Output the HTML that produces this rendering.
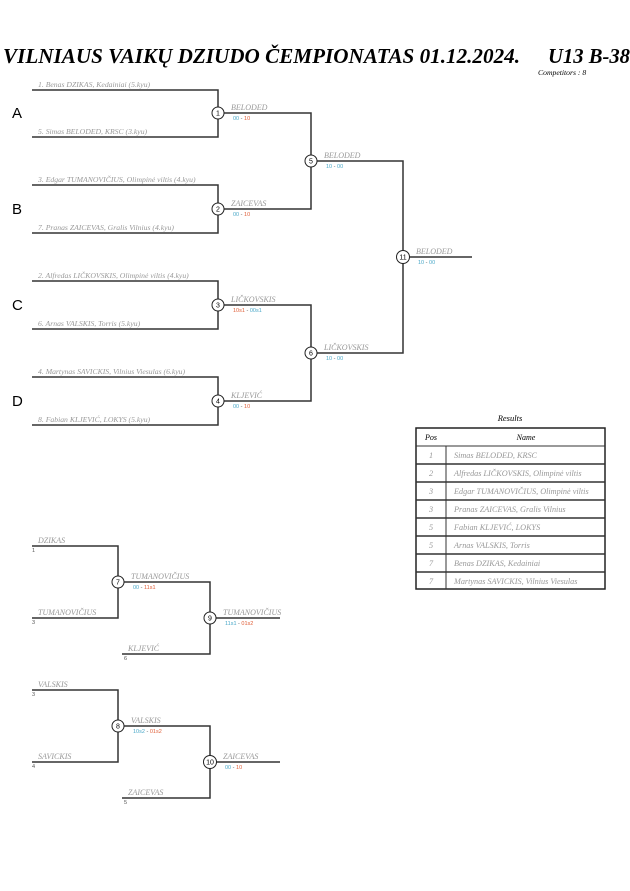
<!DOCTYPE html>
<html><head><meta charset="utf-8"><style>
html,body{margin:0;padding:0;background:#fff}
svg{display:block}
.t{font-family:"Liberation Serif",serif;font-style:italic;font-weight:bold}
.n{font-family:"Liberation Serif",serif;font-style:italic;fill:#999;font-size:7.7px}
.w{font-family:"Liberation Serif",serif;font-style:italic;fill:#999;font-size:8px}
.s{font-family:"Liberation Sans",sans-serif;font-size:5.5px}
.b{fill:#4aa8c8}.r{fill:#e0603a}.d{fill:#555}
.c{font-family:"Liberation Sans",sans-serif;font-size:7px;fill:#000}
.L{font-family:"Liberation Sans",sans-serif;font-size:15px;fill:#000}
path,line{stroke:#333;stroke-width:1.5;fill:none}
circle{fill:#fff;stroke:#222;stroke-width:1}
</style></head><body>
<svg width="630" height="891" viewBox="0 0 630 891">
<text class="t" x="3" y="63" font-size="21" textLength="517" lengthAdjust="spacingAndGlyphs">VILNIAUS VAIKŲ DZIUDO ČEMPIONATAS  01.12.2024.</text>
<text class="t" x="548" y="63" font-size="21" textLength="82" lengthAdjust="spacingAndGlyphs">U13 B-38</text>
<text class="n" x="538" y="75" style="fill:#000">Competitors : 8</text>

<text class="L" x="12" y="118">A</text>
<text class="L" x="12" y="214">B</text>
<text class="L" x="12" y="310">C</text>
<text class="L" x="12" y="406">D</text>

<path d="M32 90H218V137H32"/><path d="M32 185H218V233H32"/>
<path d="M32 281H218V329H32"/><path d="M32 377H218V425H32"/>
<path d="M218 113H311V209H218"/><path d="M218 305H311V401H218"/>
<path d="M311 161H403V353H311"/><line x1="403" y1="257" x2="472" y2="257"/>

<text class="n" x="38" y="87">1. Benas DZIKAS, Kedainiai (5.kyu)</text>
<text class="n" x="38" y="134">5. Simas BELODED, KRSC (3.kyu)</text>
<text class="n" x="38" y="182">3. Edgar TUMANOVIČIUS, Olimpinė viltis (4.kyu)</text>
<text class="n" x="38" y="230">7. Pranas ZAICEVAS, Gralis Vilnius (4.kyu)</text>
<text class="n" x="38" y="278">2. Alfredas LIČKOVSKIS, Olimpinė viltis (4.kyu)</text>
<text class="n" x="38" y="326">6. Arnas VALSKIS, Torris (5.kyu)</text>
<text class="n" x="38" y="374">4. Martynas SAVICKIS, Vilnius Viesulas (6.kyu)</text>
<text class="n" x="38" y="422">8. Fabian KLJEVIĆ, LOKYS (5.kyu)</text>

<text class="w" x="231" y="110">BELODED</text><text class="s" x="233" y="120"><tspan class="b">00</tspan><tspan class="d"> - </tspan><tspan class="r">10</tspan></text>
<text class="w" x="231" y="206">ZAICEVAS</text><text class="s" x="233" y="216"><tspan class="b">00</tspan><tspan class="d"> - </tspan><tspan class="r">10</tspan></text>
<text class="w" x="231" y="302">LIČKOVSKIS</text><text class="s" x="233" y="312"><tspan class="r">10s1</tspan><tspan class="d"> - </tspan><tspan class="b">00s1</tspan></text>
<text class="w" x="231" y="398">KLJEVIĆ</text><text class="s" x="233" y="408"><tspan class="b">00</tspan><tspan class="d"> - </tspan><tspan class="r">10</tspan></text>
<text class="w" x="324" y="158">BELODED</text><text class="s" x="326" y="168"><tspan class="b">10</tspan><tspan class="d"> - </tspan><tspan class="b">00</tspan></text>
<text class="w" x="324" y="350">LIČKOVSKIS</text><text class="s" x="326" y="360"><tspan class="b">10</tspan><tspan class="d"> - </tspan><tspan class="b">00</tspan></text>
<text class="w" x="416" y="254">BELODED</text><text class="s" x="418" y="264"><tspan class="b">10</tspan><tspan class="d"> - </tspan><tspan class="b">00</tspan></text>

<circle cx="218" cy="113" r="6"/><text class="c" x="218" y="115.5" text-anchor="middle">1</text>
<circle cx="218" cy="209" r="6"/><text class="c" x="218" y="211.5" text-anchor="middle">2</text>
<circle cx="218" cy="305" r="6"/><text class="c" x="218" y="307.5" text-anchor="middle">3</text>
<circle cx="218" cy="401" r="6"/><text class="c" x="218" y="403.5" text-anchor="middle">4</text>
<circle cx="311" cy="161" r="6"/><text class="c" x="311" y="163.5" text-anchor="middle">5</text>
<circle cx="311" cy="353" r="6"/><text class="c" x="311" y="355.5" text-anchor="middle">6</text>
<circle cx="403" cy="257" r="6.5"/><text class="c" x="403" y="259.5" text-anchor="middle">11</text>

<path d="M32 546H118V618H32"/><path d="M118 582H210V654H122"/><line x1="210" y1="618" x2="280" y2="618"/>
<path d="M32 690H118V762H32"/><path d="M118 726H210V798H122"/><line x1="210" y1="762" x2="280" y2="762"/>
<text class="w" x="38" y="543">DZIKAS</text><text class="s d" x="32" y="552">1</text>
<text class="w" x="38" y="615">TUMANOVIČIUS</text><text class="s d" x="32" y="624">3</text>
<text class="w" x="128" y="651">KLJEVIĆ</text><text class="s d" x="124" y="660">6</text>
<text class="w" x="38" y="687">VALSKIS</text><text class="s d" x="32" y="696">3</text>
<text class="w" x="38" y="759">SAVICKIS</text><text class="s d" x="32" y="768">4</text>
<text class="w" x="128" y="795">ZAICEVAS</text><text class="s d" x="124" y="804">5</text>
<text class="w" x="131" y="579">TUMANOVIČIUS</text><text class="s" x="133" y="589"><tspan class="b">00</tspan><tspan class="d"> - </tspan><tspan class="r">11s1</tspan></text>
<text class="w" x="223" y="615">TUMANOVIČIUS</text><text class="s" x="225" y="625"><tspan class="b">11s1</tspan><tspan class="d"> - </tspan><tspan class="r">01s2</tspan></text>
<text class="w" x="131" y="723">VALSKIS</text><text class="s" x="133" y="733"><tspan class="b">10s2</tspan><tspan class="d"> - </tspan><tspan class="r">01s2</tspan></text>
<text class="w" x="223" y="759">ZAICEVAS</text><text class="s" x="225" y="769"><tspan class="b">00</tspan><tspan class="d"> - </tspan><tspan class="r">10</tspan></text>
<circle cx="118" cy="582" r="6"/><text class="c" x="118" y="584.5" text-anchor="middle">7</text>
<circle cx="210" cy="618" r="6"/><text class="c" x="210" y="620.5" text-anchor="middle">9</text>
<circle cx="118" cy="726" r="6"/><text class="c" x="118" y="728.5" text-anchor="middle">8</text>
<circle cx="210" cy="762" r="6.5"/><text class="c" x="210" y="764.5" text-anchor="middle">10</text>

<text class="t" x="510" y="421" font-size="8.5" text-anchor="middle" style="font-weight:normal">Results</text>
<rect x="416" y="428" width="189" height="161" fill="#fff" stroke="#222" stroke-width="1.5"/>
<line x1="416" y1="446" x2="605" y2="446" style="stroke-width:1"/>
<line x1="446" y1="446" x2="446" y2="589" style="stroke-width:1"/>
<g style="stroke:#555;stroke-width:1">
<line x1="416" y1="464" x2="605" y2="464"/><line x1="416" y1="482" x2="605" y2="482"/>
<line x1="416" y1="500" x2="605" y2="500"/><line x1="416" y1="518" x2="605" y2="518"/>
<line x1="416" y1="536" x2="605" y2="536"/><line x1="416" y1="554" x2="605" y2="554"/>
<line x1="416" y1="572" x2="605" y2="572"/></g>
<text class="n" x="431" y="440" text-anchor="middle" style="fill:#000;font-size:8px">Pos</text>
<text class="n" x="526" y="440" text-anchor="middle" style="fill:#000;font-size:8px">Name</text>
<g class="n" style="font-size:8.2px">
<text x="431" y="458" text-anchor="middle">1</text><text x="454" y="458">Simas BELODED, KRSC</text>
<text x="431" y="476" text-anchor="middle">2</text><text x="454" y="476">Alfredas LIČKOVSKIS, Olimpinė viltis</text>
<text x="431" y="494" text-anchor="middle">3</text><text x="454" y="494">Edgar TUMANOVIČIUS, Olimpinė viltis</text>
<text x="431" y="512" text-anchor="middle">3</text><text x="454" y="512">Pranas ZAICEVAS, Gralis Vilnius</text>
<text x="431" y="530" text-anchor="middle">5</text><text x="454" y="530">Fabian KLJEVIĆ, LOKYS</text>
<text x="431" y="548" text-anchor="middle">5</text><text x="454" y="548">Arnas VALSKIS, Torris</text>
<text x="431" y="566" text-anchor="middle">7</text><text x="454" y="566">Benas DZIKAS, Kedainiai</text>
<text x="431" y="584" text-anchor="middle">7</text><text x="454" y="584">Martynas SAVICKIS, Vilnius Viesulas</text>
</g>
</svg>
</body></html>
